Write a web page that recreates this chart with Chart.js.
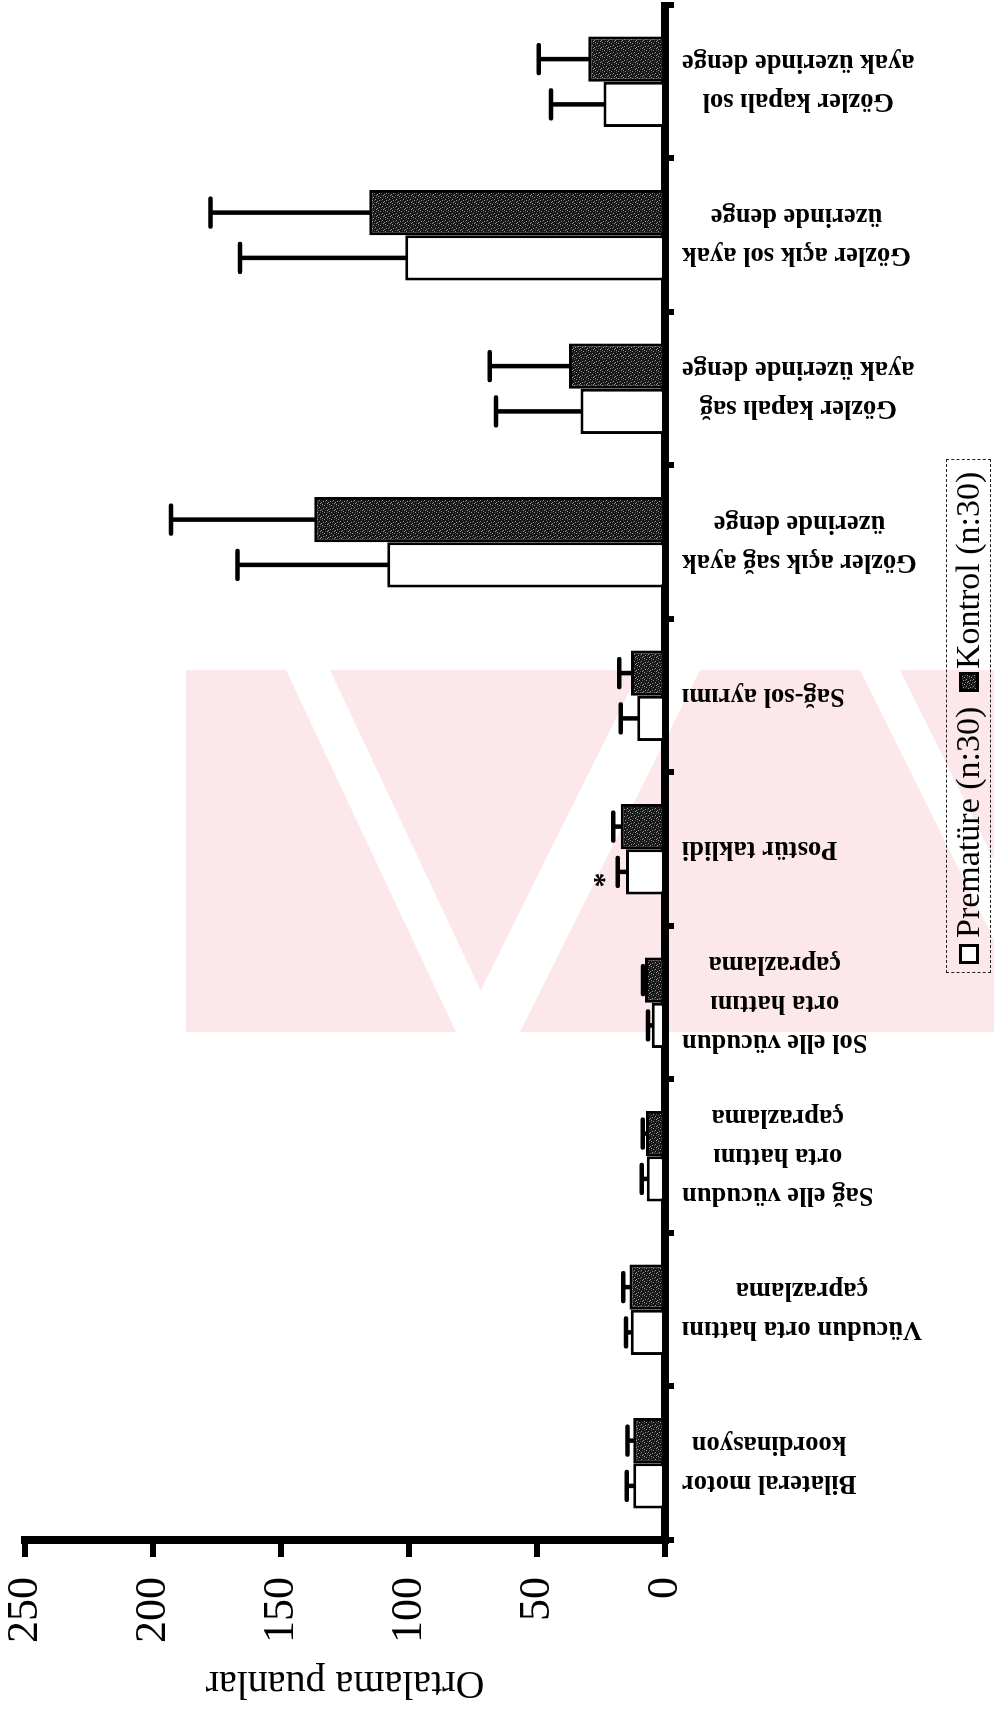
<!DOCTYPE html>
<html><head><meta charset="utf-8">
<script src="https://cdn.jsdelivr.net/npm/chart.js@4.4.1/dist/chart.umd.min.js"></script>
<style>
html,body{margin:0;padding:0;background:#fff;width:994px;height:1714px;overflow:hidden;}
#wm{position:absolute;left:0;top:0;}
#rot{position:absolute;left:0;top:0;width:1714px;height:994px;transform-origin:0 0;transform:translateY(1714px) rotate(-90deg);}
#c{position:absolute;left:0;top:0;}
#legend{position:absolute;left:741px;top:946px;width:514px;height:45px;border:1px dashed #222;box-sizing:border-box;font-family:"Liberation Serif",serif;font-size:34px;color:#000;}
#legend .sq{position:absolute;top:12px;width:20px;height:20px;box-sizing:border-box;border:3px solid #000;}
#legend .tx{position:absolute;top:2px;white-space:nowrap;line-height:38px;}
</style></head>
<body>
<svg id="wm" width="994" height="1714">
  <polygon points="186,670 994,670 994,1032 186,1032" fill="#fce8ea"/>
  <polygon points="286,670 330,670 500,1032 456,1032" fill="#fff"/>
  <polygon points="640,670 700,670 520,1032 460,1032" fill="#fff"/>
  <polygon points="860,670 900,670 994,860 994,940" fill="#fff"/>
</svg>
<div id="rot">
  <canvas id="c" width="1714" height="994"></canvas>
  <div id="legend">
    <div class="sq" style="left:8px;background:#fff"></div>
    <div class="tx" style="left:34px">Prematüre (n:30)</div>
    <div class="sq" id="ksq" style="left:280px;background:#222"></div>
    <div class="tx" style="left:303px">Kontrol (n:30)</div>
  </div>
</div>
<script>
// ---- data ----
const categories = [
  ['Bilateral motor', 'koordinasyon'],
  ['Vücudun orta hattını', 'çaprazlama'],
  ['Sağ elle vücudun', 'orta hattını', 'çaprazlama'],
  ['Sol elle vücudun', 'orta hattını', 'çaprazlama'],
  ['Postür taklidi'],
  ['Sağ-sol ayrımı'],
  ['Gözler açık sağ ayak', 'üzerinde denge'],
  ['Gözler kapalı sağ', 'ayak üzerinde denge'],
  ['Gözler açık sol ayak', 'üzerinde denge'],
  ['Gözler kapalı sol', 'ayak üzerinde denge']
];
const seriesNames = ['Prematüre (n:30)', 'Kontrol (n:30)'];
const prematureMean = [12.4, 13.4, 7.1, 5.2, 15.2, 10.8, 108.5, 33, 101.5, 24];
const prematureSD   = [2.5, 1.8, 2.0, 1.4, 3.3, 6.5, 58.5, 33, 64.5, 20.5];
const kontrolMean   = [12.4, 13.9, 7.4, 7.8, 17.3, 13.3, 137, 37.5, 115.5, 30];
const kontrolSD     = [2.2, 2.4, 1.3, 0.8, 2.9, 4.6, 56, 31, 62, 19.3];
const valueTicks = [0, 50, 100, 150, 200, 250];
const axisTitle = 'Ortalama puanlar';
const significant = [4]; // Postür taklidi, prematüre (*)

// stipple pattern for Kontrol bars (fixed, deterministic)
function makePattern() {
  const p = document.createElement('canvas');
  p.width = 7; p.height = 7;
  const g = p.getContext('2d');
  g.fillStyle = '#161616'; g.fillRect(0, 0, 7, 7);
  g.fillStyle = '#9a9a9a';
  [[1,1],[4,2],[2,4],[6,5],[0,6],[5,0]].forEach(([x,y]) => g.fillRect(x, y, 1, 1));
  g.fillStyle = '#505050';
  [[3,0],[6,3],[1,3],[4,5]].forEach(([x,y]) => g.fillRect(x, y, 1, 1));
  return p;
}
const patCanvas = makePattern();
const ctx0 = document.getElementById('c').getContext('2d');
const kontrolFill = ctx0.createPattern(patCanvas, 'repeat');
document.getElementById('ksq').style.background = 'url(' + patCanvas.toDataURL() + ')';

const sdByDataset = [prematureSD, kontrolSD];

const errorBarPlugin = {
  id: 'errbars',
  afterDatasetsDraw(chart) {
    const c = chart.ctx;
    const y = chart.scales.y;
    c.save();
    c.strokeStyle = '#000';
    c.lineWidth = 4.5;
    c.lineCap = 'round';
    chart.data.datasets.forEach((ds, di) => {
      const meta = chart.getDatasetMeta(di);
      meta.data.forEach((bar, i) => {
        const top = y.getPixelForValue(ds.data[i]);
        const end = y.getPixelForValue(ds.data[i] + sdByDataset[di][i]);
        c.beginPath();
        c.moveTo(bar.x, top);
        c.lineTo(bar.x, end);
        c.moveTo(bar.x - 14, end);
        c.lineTo(bar.x + 14, end);
        c.stroke();
        if (di === 0 && significant.includes(i)) {
          c.fillStyle = '#000';
          c.font = 'bold 30px "Liberation Serif"';
          c.textAlign = 'center';
          c.textBaseline = 'middle';
          c.fillText('*', bar.x - 8, end - 12);
        }
      });
    });
    c.restore();
  }
};

const catLabelPlugin = {
  id: 'catlabels',
  afterDraw(chart) {
    const c = chart.ctx;
    const x = chart.scales.x;
    const near = x.top + 17;
    const lh = 39;
    c.save();
    c.fillStyle = '#000';
    c.font = 'bold 26.5px "Liberation Serif"';
    c.textAlign = 'center';
    c.textBaseline = 'middle';
    categories.forEach((lines, i) => {
      const px = x.getPixelForValue(i);
      const w = Math.max(...lines.map(l => c.measureText(l).width));
      c.save();
      c.translate(px, near + w / 2);
      c.rotate(-Math.PI / 2);
      lines.forEach((l, j) => {
        c.fillText(l, 0, (j - (lines.length - 1) / 2) * lh);
      });
      c.restore();
    });
    c.restore();
  }
};

const chart = new Chart(document.getElementById('c'), {
  type: 'bar',
  data: {
    labels: categories,
    datasets: [
      { label: seriesNames[0], data: prematureMean, backgroundColor: '#fff', borderColor: '#000', borderWidth: 3, borderSkipped: 'start' },
      { label: seriesNames[1], data: kontrolMean, backgroundColor: kontrolFill, borderColor: '#000', borderWidth: 3, borderSkipped: 'start' }
    ]
  },
  options: {
    responsive: false,
    animation: false,
    devicePixelRatio: 1,
    layout: { padding: { top: 25, right: 5, left: 0, bottom: 0 } },
    datasets: { bar: { categoryPercentage: 0.59, barPercentage: 1.0 } },
    plugins: { legend: { display: false }, tooltip: { enabled: false } },
    scales: {
      x: {
        offset: true,
        grid: { display: true, drawOnChartArea: false, drawTicks: true, tickLength: 9, tickWidth: 6, tickColor: '#000', lineWidth: 6, offset: true },
        border: { display: true, width: 8, color: '#000' },
        ticks: { display: false },
        afterFit(s) { s.height = 329; s.paddingLeft = 0; s.paddingRight = 0; }
      },
      y: {
        min: 0, max: 250,
        afterBuildTicks(s) { s.ticks = valueTicks.map(v => ({ value: v })); },
        grid: { display: true, drawOnChartArea: false, drawTicks: true, tickLength: 17, tickWidth: 6, tickColor: '#000', lineWidth: 6 },
        border: { display: true, width: 8, color: '#000' },
        ticks: { padding: 20, color: '#000', font: { family: '"Liberation Serif", serif', size: 44, lineHeight: 0.2 } },
        title: { display: true, text: axisTitle, color: '#000', padding: { top: 7, bottom: 0 }, font: { family: '"Liberation Serif", serif', size: 40 } },
        afterFit(s) { s.width = 174; s.paddingTop = 0; s.paddingBottom = 0; }
      }
    }
  },
  plugins: [errorBarPlugin, catLabelPlugin]
});
// align the top of the value axis (250) with the reference position
const diff = 25 - chart.scales.y.getPixelForValue(250);
if (Math.abs(diff) > 0.5) {
  chart.options.layout.padding.top = Math.max(0, 25 + diff);
  chart.update();
}
</script>
</body></html>
